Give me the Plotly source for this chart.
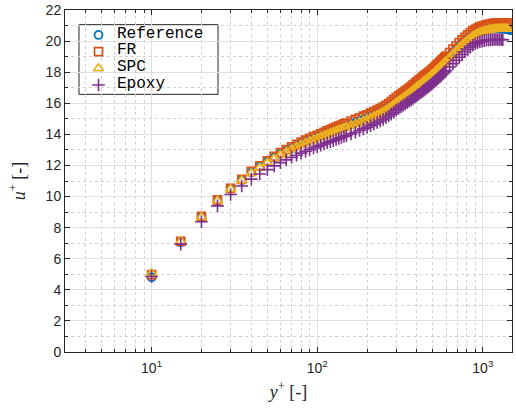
import math
import plotly.graph_objects as go

# ---------------- data ----------------
Y_PLUS = [10, 15, 20, 25, 30, 35, 40, 45, 50, 55, 60, 65, 70, 75, 80, 85, 90, 95, 100,
          105, 110, 115, 120, 125, 130, 135, 140, 145, 150,
          160, 170, 180, 190, 200, 210, 220, 230, 240, 250, 260, 270, 280, 290, 300,
          310, 320, 330, 340, 350, 360, 370, 380, 390, 400, 410, 420, 430, 440, 450,
          460, 470, 480, 490, 500, 510, 520, 530, 540, 550, 560, 570, 580, 590, 600,
          630, 660, 690, 720, 750, 780, 810, 840, 870, 900, 930, 960, 990, 1020, 1050,
          1080, 1110, 1140, 1170, 1200, 1230, 1260, 1290, 1320, 1350, 1380, 1410, 1440,
          1470, 1500]

U_REFERENCE = [4.80, 7.06, 8.70, 9.75, 10.50, 11.06, 11.56, 11.92, 12.23, 12.50, 12.74, 12.94,
               13.11, 13.26, 13.40, 13.52, 13.63, 13.73, 13.82, 13.91, 13.99, 14.07, 14.15,
               14.22, 14.29, 14.36, 14.42, 14.48, 14.54,
               14.65, 14.76, 14.86, 14.95, 15.04, 15.14, 15.24, 15.34, 15.44, 15.54, 15.64,
               15.75, 15.87, 16.00, 16.13,
               16.24, 16.34, 16.44, 16.54, 16.64, 16.74, 16.84, 16.94, 17.04, 17.14, 17.23,
               17.32, 17.41, 17.50, 17.58, 17.66, 17.74, 17.82, 17.90, 17.98, 18.06, 18.15,
               18.23, 18.32, 18.40, 18.48, 18.56, 18.64, 18.72, 18.80,
               19.02, 19.24, 19.46, 19.66, 19.84, 20.00, 20.15, 20.28, 20.40, 20.50, 20.58,
               20.64, 20.69, 20.73, 20.76, 20.78, 20.80, 20.81, 20.82, 20.82, 20.82, 20.82,
               20.81, 20.80, 20.79, 20.78, 20.76, 20.74, 20.70]

U_FR = [4.98, 7.12, 8.72, 9.78, 10.52, 11.10, 11.62, 11.98, 12.30, 12.58, 12.82, 13.02, 13.20,
        13.36, 13.50, 13.63, 13.74, 13.85, 13.94, 14.04, 14.13, 14.22, 14.30, 14.38, 14.46,
        14.53, 14.60, 14.67, 14.73,
        14.86, 14.97, 15.07, 15.17, 15.26, 15.36, 15.46, 15.56, 15.66, 15.76, 15.87, 15.98,
        16.10, 16.23, 16.37,
        16.48, 16.58, 16.68, 16.78, 16.88, 16.98, 17.08, 17.18, 17.28, 17.38, 17.47, 17.56,
        17.65, 17.74, 17.82, 17.90, 17.98, 18.06, 18.14, 18.22, 18.30, 18.39, 18.47, 18.56,
        18.64, 18.72, 18.80, 18.88, 18.96, 19.04,
        19.26, 19.48, 19.70, 19.90, 20.08, 20.24, 20.40, 20.54, 20.66, 20.76, 20.84, 20.91,
        20.96, 21.00, 21.04, 21.07, 21.10, 21.12, 21.14, 21.15, 21.16, 21.16, 21.17, 21.17,
        21.17, 21.17, 21.16, 21.16, 21.16, 21.15]

U_SPC = [5.06, 7.12, 8.68, 9.73, 10.48, 11.03, 11.50, 11.85, 12.16, 12.43, 12.66, 12.86, 13.03,
         13.18, 13.32, 13.44, 13.55, 13.65, 13.74, 13.83, 13.91, 13.99, 14.07, 14.14, 14.21,
         14.28, 14.34, 14.40, 14.46,
         14.56, 14.66, 14.76, 14.85, 14.94, 15.04, 15.14, 15.24, 15.34, 15.44, 15.54, 15.65,
         15.77, 15.90, 16.03,
         16.14, 16.24, 16.34, 16.44, 16.54, 16.64, 16.74, 16.84, 16.94, 17.04, 17.13, 17.22,
         17.31, 17.40, 17.48, 17.56, 17.64, 17.72, 17.80, 17.88, 17.96, 18.05, 18.13, 18.22,
         18.30, 18.38, 18.46, 18.54, 18.62, 18.70,
         18.92, 19.14, 19.36, 19.56, 19.74, 19.90, 20.05, 20.18, 20.30, 20.40, 20.48, 20.55,
         20.60, 20.64, 20.68, 20.71, 20.74, 20.76, 20.77, 20.78, 20.79, 20.79, 20.80, 20.80,
         20.80, 20.79, 20.78]

U_EPOXY = [4.86, 6.94, 8.38, 9.40, 10.13, 10.68, 11.12, 11.45, 11.73, 11.97, 12.18, 12.36,
           12.52, 12.66, 12.79, 12.91, 13.02, 13.12, 13.21, 13.30, 13.38, 13.46, 13.53, 13.60,
           13.67, 13.74, 13.80, 13.86, 13.92,
           14.03, 14.14, 14.25, 14.35, 14.45, 14.56, 14.66, 14.76, 14.86, 14.96, 15.07, 15.18,
           15.30, 15.43, 15.56,
           15.66, 15.76, 15.86, 15.95, 16.04, 16.13, 16.22, 16.31, 16.40, 16.49, 16.58, 16.66,
           16.75, 16.83, 16.91, 16.99, 17.07, 17.15, 17.23, 17.31, 17.39, 17.47, 17.55, 17.63,
           17.71, 17.79, 17.87, 17.95, 18.03, 18.11,
           18.33, 18.55, 18.76, 18.96, 19.14, 19.31, 19.47, 19.61, 19.73, 19.83, 19.90, 19.96,
           20.00, 20.03, 20.05, 20.07, 20.08, 20.09, 20.10, 20.10, 20.10, 20.10, 20.10, 20.09]

SERIES_NAMES = ["Reference", "FR", "SPC", "Epoxy"]
SERIES_VALUES = [U_REFERENCE, U_FR, U_SPC, U_EPOXY]

X_TICKS = [10, 100, 1000]
X_TICK_TEXT = ["10<sup>1</sup>", "10<sup>2</sup>", "10<sup>3</sup>"]
Y_TICKS = [0, 2, 4, 6, 8, 10, 12, 14, 16, 18, 20, 22]

# ---------------- styling ----------------
SYMBOLS = ["circle-open", "square-open", "triangle-up-open", "cross-thin-open"]
COLORS = ["#0072BD", "#D95319", "#EDB120", "#7E2F8E"]
SIZES = [8, 8, 9, 9]
WIDTHS = [1.7, 1.7, 1.7, 1.6]
AX = "#262626"
TICKFONT = dict(family="Liberation Sans", size=14, color=AX)

fig = go.Figure()
for name, vals, sym, col, size, w in zip(SERIES_NAMES, SERIES_VALUES, SYMBOLS, COLORS, SIZES, WIDTHS):
    fig.add_trace(go.Scatter(
        x=Y_PLUS[:len(vals)], y=vals, mode="markers", name=name, showlegend=False,
        marker=dict(symbol=sym, size=size, color=col, line=dict(color=col, width=w)),
    ))

# ---- legend (drawn manually for MATLAB-like compact spacing) ----
LEG_X0, LEG_X1, LEG_Y0, LEG_Y1 = 0.0313, 0.3423, 0.7534, 0.9571
LEG_KEY_X = 0.0750
LEG_TEXT_X = 0.1120
LEG_ROWS_Y = [0.9270, 0.8784, 0.8291, 0.7806]

fig.add_shape(type="rect", xref="paper", yref="paper",
              x0=LEG_X0, x1=LEG_X1, y0=LEG_Y0, y1=LEG_Y1,
              line=dict(color=AX, width=1), fillcolor="white", layer="between")
for name, sym, col, size, w, ry in zip(SERIES_NAMES, SYMBOLS, COLORS, SIZES, WIDTHS, LEG_ROWS_Y):
    fig.add_trace(go.Scatter(
        x=[LEG_KEY_X], y=[ry], xaxis="x2", yaxis="y2", mode="markers",
        showlegend=False, hoverinfo="skip", cliponaxis=False,
        marker=dict(symbol=sym, size=size, color=col, line=dict(color=col, width=w)),
    ))
    fig.add_annotation(x=LEG_TEXT_X, y=ry + 0.004, xref="paper", yref="paper",
                       text=name, showarrow=False, xanchor="left", yanchor="middle",
                       font=dict(family="Courier New, Nimbus Mono PS, FreeMono, Liberation Mono",
                                 size=16, color="#000000"))

fig.update_xaxes(
    type="log", range=[math.log10(3), math.log10(1500)],
    tickvals=X_TICKS, ticktext=X_TICK_TEXT, tickfont=TICKFONT, ticklabelstandoff=3,
    ticks="inside", ticklen=5, tickcolor=AX,
    showline=True, linecolor=AX, linewidth=1, mirror="allticks",
    showgrid=True, gridcolor="#dfdfdf", gridwidth=1, zeroline=False,
    minor=dict(ticks="inside", ticklen=3, tickcolor=AX, dtick="D1",
               showgrid=True, gridcolor="#d2d2d2", griddash="dot", gridwidth=1),
    title=dict(text="<i>y</i><sup>+</sup> [-]",
               font=dict(family="Liberation Serif", size=18, color=AX), standoff=10),
)
fig.update_yaxes(
    range=[0, 22], tickvals=Y_TICKS, tickfont=TICKFONT, ticklabeloverflow="allow",
    ticks="inside", ticklen=5, tickcolor=AX,
    showline=True, linecolor=AX, linewidth=1, mirror="allticks",
    showgrid=True, gridcolor="#dfdfdf", gridwidth=1, zeroline=False,
    minor=dict(ticks="inside", ticklen=3, tickcolor=AX, dtick=1,
               showgrid=True, gridcolor="#d2d2d2", griddash="dot", gridwidth=1),
    title=dict(text="<i>u</i><sup>+</sup> [-]",
               font=dict(family="Liberation Serif", size=18, color=AX), standoff=15),
)

fig.update_layout(
    width=516, height=411,
    margin=dict(l=65, r=4, t=2, b=59),
    plot_bgcolor="white", paper_bgcolor="white",
    showlegend=False,
    xaxis2=dict(overlaying="x", range=[0, 1], visible=False, fixedrange=True),
    yaxis2=dict(overlaying="y", range=[0, 1], visible=False, fixedrange=True),
)

fig.write_html("out.html")
